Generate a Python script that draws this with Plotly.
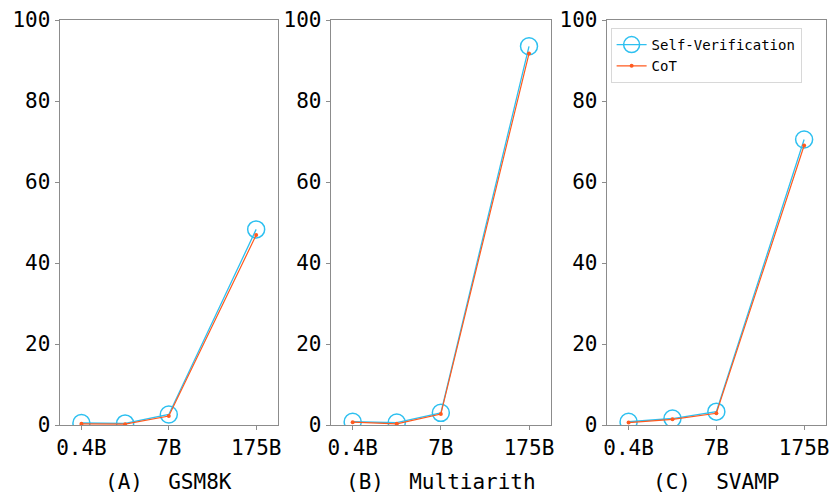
import plotly.graph_objects as go

x_pos = [0, 1, 2, 4]
tick_vals = [0, 2, 4]
tick_text = ["0.4B", "7B", "175B"]

panels = ["(A)  GSM8K", "(B)  Multiarith", "(C)  SVAMP"]
sv_gsm8k = [0.5, 0.4, 2.6, 48.3]
cot_gsm8k = [0.3, 0.2, 2.2, 46.9]
sv_multi = [0.8, 0.6, 3.0, 93.5]
cot_multi = [0.7, 0.3, 2.7, 91.7]
sv_svamp = [0.8, 1.6, 3.3, 70.5]
cot_svamp = [0.6, 1.4, 2.9, 69.0]

sv_series = [sv_gsm8k, sv_multi, sv_svamp]
cot_series = [cot_gsm8k, cot_multi, cot_svamp]

W, H = 838, 493
domains = [(57, 277), (330, 552), (608, 829)]
SV_COLOR = "#2EC0F0"
COT_COLOR = "#FF5A1F"
FONT = "DejaVu Sans Mono"

fig = go.Figure()
for i in range(3):
    ax = "" if i == 0 else str(i + 1)
    fig.add_trace(go.Scatter(
        x=x_pos, y=sv_series[i], mode="lines+markers", name="Self-Verification",
        line=dict(color=SV_COLOR, width=1.3),
        marker=dict(symbol="circle-open", size=17, color=SV_COLOR, line=dict(width=1.5, color=SV_COLOR)),
        xaxis="x" + ax, yaxis="y" + ax, showlegend=(i == 0), legendgroup="sv"))
    fig.add_trace(go.Scatter(
        x=x_pos, y=cot_series[i], mode="lines+markers", name="CoT",
        line=dict(color=COT_COLOR, width=1.2),
        marker=dict(symbol="circle", size=4, color=COT_COLOR),
        xaxis="x" + ax, yaxis="y" + ax, showlegend=(i == 0), legendgroup="cot"))

layout = dict(
    width=W, height=H,
    margin=dict(l=0, r=0, t=20, b=68),
    paper_bgcolor="white", plot_bgcolor="white",
    font=dict(family=FONT, color="black"),
    showlegend=True,
    legend=dict(x=612 / W, y=1 - 8 / 405, xanchor="left", yanchor="top",
                bordercolor="#d8d8d8", borderwidth=1, bgcolor="white",
                font=dict(size=14, family=FONT, color="black"),
                tracegroupgap=0, itemwidth=30),
)
annotations = []
for i in range(3):
    ax = "" if i == 0 else str(i + 1)
    d0, d1 = domains[i]
    layout["xaxis" + ax] = dict(
        domain=[d0 / W, d1 / W], range=[-0.5, 4.5], anchor="y" + ax,
        tickmode="array", tickvals=tick_vals, ticktext=tick_text,
        showgrid=False, zeroline=False, showline=True, mirror=True,
        linecolor="#8c8c8c", linewidth=1, ticks="outside", ticklen=4,
        tickcolor="#8c8c8c", tickfont=dict(size=21, family=FONT, color="black"))
    layout["yaxis" + ax] = dict(
        domain=[0, 1], range=[0, 100], anchor="x" + ax,
        tickmode="array", tickvals=[0, 20, 40, 60, 80, 100],
        showgrid=False, zeroline=False, showline=True, mirror=True,
        linecolor="#8c8c8c", linewidth=1, ticks="outside", ticklen=4,
        tickcolor="#8c8c8c", tickfont=dict(size=21, family=FONT, color="black"))
    annotations.append(dict(
        text=panels[i], x=(d0 + d1) / 2 / W, y=(425 - 482) / 405, xref="paper", yref="paper",
        xanchor="center", yanchor="middle", showarrow=False,
        font=dict(size=21, family=FONT, color="black")))
layout["annotations"] = annotations
fig.update_layout(**layout)
fig.write_html("out.html")
